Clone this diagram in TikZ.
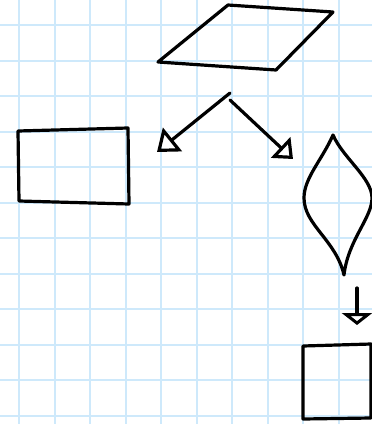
\documentclass[tikz,border=0pt]{standalone}
\usepackage{tikz}
\usetikzlibrary{positioning, arrows.meta, calc}
\definecolor{gridblue}{RGB}{206,233,251}

\tikzset{
	pen/.style={draw=black, line width=3.2pt, line cap=round, line join=round},
}

\begin{document}
\begin{tikzpicture}[x=1pt, y=-1pt]
	\useasboundingbox (0,0) rectangle (372,424);
	\clip (0,0) rectangle (372,424);
	\fill[white] (0,0) rectangle (372,424);
	% squared paper
	\foreach \k in {0,...,10}{
		\pgfmathsetmacro{\gx}{19 + 35.5*\k}
		\draw[gridblue, line width=2pt] (\gx,0) -- (\gx,424);
	}
	\foreach \k in {0,...,11}{
		\pgfmathsetmacro{\gy}{25 + 35.5*\k}
		\draw[gridblue, line width=2pt] (0,\gy) -- (372,\gy);
	}
	% input (parallelogram)
	\draw[pen] (158,62) -- (228,5) -- (333,12) -- (276,70) -- cycle;
	% process boxes
	\draw[pen] (18,131) -- (128,128) -- (129,204) -- (19,201) -- cycle;
	\draw[pen] (303,346) -- (371,344) -- (371,418) -- (303,419) -- cycle;
	% decision (diamond)
	\draw[pen] (333,135) .. controls (322,160) and (304,178) .. (304,198)
		.. controls (304,225) and (336,240) .. (344,275)
		.. controls (348,240) and (372,218) .. (372,198)
		.. controls (372,178) and (343,158) .. (333,135);
	% connectors
	\coordinate (split) at (230,96);
	\coordinate (leftend) at (157,152);
	\coordinate (rightend) at (293,159);
	\coordinate (downstart) at (357,288);
	\coordinate (downend) at (357,325);
	\draw[pen, -{Triangle[open, length=20pt, width=30pt]}] ($(split)+(0,-3)$) -- (leftend);
	\draw[pen, -{Triangle[open, length=17pt, width=28pt]}] ($(split)+(0,4)$) -- (rightend);
	\draw[pen, -{Triangle[open, length=12pt, width=30pt]}] (downstart) -- (downend);
\end{tikzpicture}
\end{document}
